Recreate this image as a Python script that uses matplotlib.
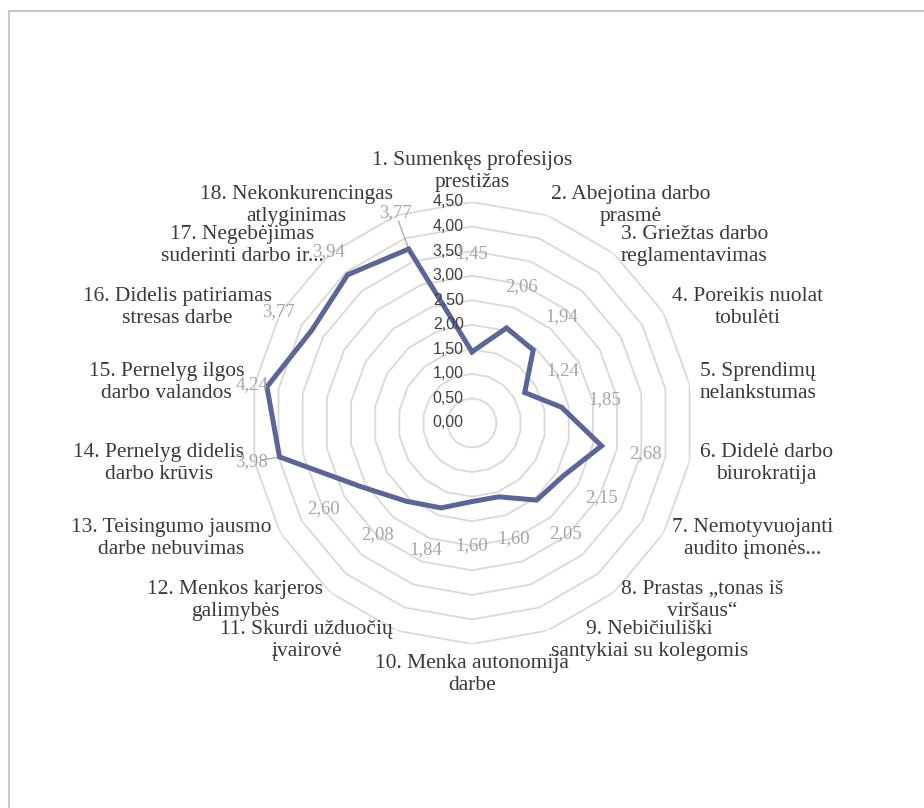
import numpy as np
import matplotlib
matplotlib.use("Agg")
import matplotlib.pyplot as plt
from matplotlib.lines import Line2D

categories = [
    "1. Sumenkęs profesijos\nprestižas",
    "2. Abejotina darbo\nprasmė",
    "3. Griežtas darbo\nreglamentavimas",
    "4. Poreikis nuolat\ntobulėti",
    "5. Sprendimų\nnelankstumas",
    "6. Didelė darbo\nbiurokratija",
    "7. Nemotyvuojanti\naudito įmonės...",
    "8. Prastas „tonas iš\nviršaus“",
    "9. Nebičiuliški\nsantykiai su kolegomis",
    "10. Menka autonomija\ndarbe",
    "11. Skurdi užduočių\nįvairovė",
    "12. Menkos karjeros\ngalimybės",
    "13. Teisingumo jausmo\ndarbe nebuvimas",
    "14. Pernelyg didelis\ndarbo krūvis",
    "15. Pernelyg ilgos\ndarbo valandos",
    "16. Didelis patiriamas\nstresas darbe",
    "17. Negebėjimas\nsuderinti darbo ir...",
    "18. Nekonkurencingas\natlyginimas",
]
values = [1.45, 2.06, 1.94, 1.24, 1.85, 2.68, 2.15, 2.05, 1.60,
          1.60, 1.84, 2.08, 2.60, 3.98, 4.24, 3.77, 3.94, 3.77]
ticks = [0.0, 0.5, 1.0, 1.5, 2.0, 2.5, 3.0, 3.5, 4.0, 4.5]

def fmt(v):
    return f"{v:.2f}".replace(".", ",")

n = len(categories)
theta = np.arange(n) * 2 * np.pi / n
theta_c = np.append(theta, theta[0])
vals = np.array(values)

fig = plt.figure(figsize=(9.24, 8.08), dpi=100)
ax = fig.add_axes([0.2716, 0.203, 0.4784, 0.547], projection="polar")
ax.set_theta_zero_location("N")
ax.set_theta_direction(-1)
ax.set_ylim(0, 4.5)
ax.grid(False)
ax.spines["polar"].set_visible(False)
ax.set_xticks([])
ax.set_yticks([])

# polygon gridlines like an Excel radar chart
for t in ticks[1:]:
    ax.plot(theta_c, [t] * (n + 1), color="#d9d9d9", lw=1.3, zorder=1)

# radial axis labels
for t in ticks:
    ax.annotate(fmt(t), xy=(0, t), xytext=(-6, 0), textcoords="offset points",
                ha="right", va="center", fontsize=11.5, color="#404040",
                family="Liberation Sans", zorder=4)

ax.plot(theta_c, np.append(vals, vals[0]), color="#5a6599", lw=3.6,
        solid_joinstyle="miter", zorder=3)

# data labels, pushed outward and kept inside the plot area
lab_r = np.minimum(vals + 0.9, 4.55)
lab_r[0] = 3.45
for i, (a, v, r) in enumerate(zip(theta, vals, lab_r)):
    ax.text(a, r, fmt(v), ha="center", va="center", fontsize=13.5,
            color="#a6a6a6", family="Liberation Serif", zorder=4)
    if i in (13, 17):
        ax.plot([a, a], [v, r - 0.18], color="#a6a6a6", lw=0.9, zorder=2)

# category labels around the outside
R = 4.71
for a, name in zip(theta, categories):
    s, c = np.sin(a), np.cos(a)
    ha = "center" if abs(s) < 0.1 else ("left" if s > 0 else "right")
    if abs(c) < 0.95:
        va = "center"
    else:
        va = "bottom" if c > 0 else "top"
    ax.text(a, R, name, ha=ha, va=va, multialignment="center",
            fontsize=15.5, color="#3a3a3a", family="Liberation Serif",
            linespacing=1.2, clip_on=False)

# chart frame
fig.add_artist(Line2D([8.5 / 924, 1], [1 - 11 / 808] * 2,
                      transform=fig.transFigure, color="#c8c8c8", lw=1.5))
fig.add_artist(Line2D([8.5 / 924] * 2, [0, 1 - 11 / 808],
                      transform=fig.transFigure, color="#c8c8c8", lw=1.5))

fig.savefig("out.png", dpi=100, facecolor="white")
